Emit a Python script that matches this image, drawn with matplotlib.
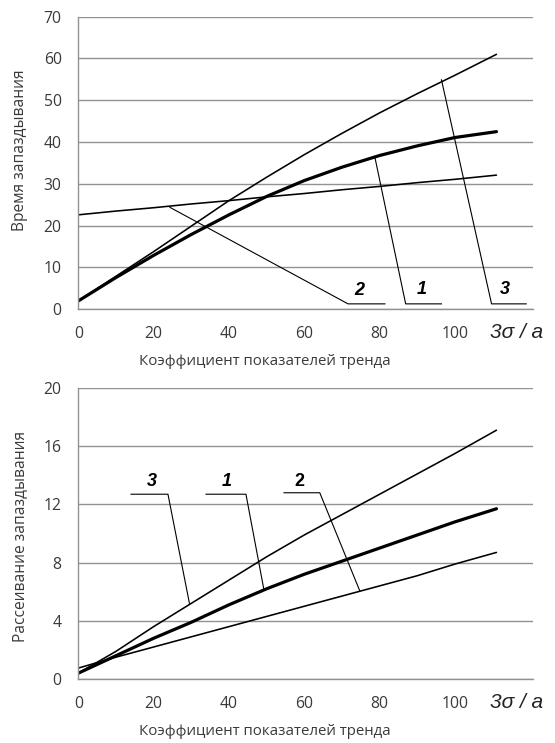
import matplotlib
matplotlib.use("Agg")
import matplotlib.pyplot as plt

# ---- data ----
x = [0, 10, 20, 30, 40, 50, 60, 70, 80, 90, 100, 111]

top_c1 = [2.0, 7.6, 12.9, 17.9, 22.6, 27.0, 30.8, 34.0, 36.8, 39.1, 41.1, 42.5]
top_c2 = [22.6, 23.5, 24.3, 25.2, 26.0, 26.9, 27.7, 28.6, 29.4, 30.3, 31.1, 32.1]
top_c3 = [2.0, 7.9, 13.8, 19.9, 26.0, 31.6, 37.0, 42.1, 47.0, 51.6, 56.0, 61.0]

bot_c1 = [0.4, 1.6, 2.8, 3.9, 5.1, 6.2, 7.2, 8.1, 9.0, 9.9, 10.8, 11.7]
bot_c2 = [0.75, 1.5, 2.2, 2.9, 3.6, 4.3, 5.0, 5.7, 6.4, 7.1, 7.9, 8.7]
bot_c3 = [0.4, 1.9, 3.6, 5.2, 6.8, 8.4, 9.9, 11.3, 12.7, 14.1, 15.5, 17.1]

x_ticks = [0, 20, 40, 60, 80, 100]
top_yticks = [0, 10, 20, 30, 40, 50, 60, 70]
bot_yticks = [0, 4, 8, 12, 16, 20]

top_ylabel = "Время запаздывания"
bot_ylabel = "Рассеивание запаздывания"
xlabel = "Коэффициент показателей тренда"
x_unit = "3σ / a"

# leader lines: (label, label_pos, path)
top_leaders = [
    ("2", (74.7, 4.6), [(24.3, 24.4), (71.6, 1.3), (81.4, 1.3)]),
    ("1", (91.1, 4.8), [(78.7, 36.5), (86.9, 1.3), (96.4, 1.3)]),
    ("3", (113.2, 4.8), [(96.4, 54.9), (109.7, 1.3), (118.9, 1.3)]),
]
bot_leaders = [
    ("3", (19.6, 13.6), [(14.0, 12.7), (23.8, 12.7), (29.5, 5.2)], True),
    ("1", (39.5, 13.6), [(33.9, 12.7), (44.5, 12.7), (49.3, 6.1)], True),
    ("2", (58.6, 13.6), [(54.6, 12.8), (64.1, 12.8), (74.7, 6.07)], False),
]

fig = plt.figure(figsize=(5.55, 7.43), dpi=100)
W, H = 555, 743

def make_ax(top_px, bottom_px):
    left_px, right_px = 78.3, 533.0
    return fig.add_axes([left_px / W, 1 - bottom_px / H,
                         (right_px - left_px) / W, (bottom_px - top_px) / H])

ax1 = make_ax(16.7, 309.3)
ax2 = make_ax(388.0, 679.0)

grid_c = "#929292"
txt_c = "#3a3a3a"
font = "Open Sans"

def style(ax, yticks, ylabel, ylab_y):
    ax.set_xlim(0, 120.7)
    ax.set_ylim(yticks[0], yticks[-1])
    ax.set_yticks(yticks)
    ax.set_xticks(x_ticks)
    for s in ["top", "right"]:
        ax.spines[s].set_visible(False)
    for s in ["left", "bottom"]:
        ax.spines[s].set_color(grid_c)
        ax.spines[s].set_linewidth(1.0)
    ax.yaxis.grid(True, color=grid_c, linewidth=1.0)
    ax.set_axisbelow(True)
    ax.tick_params(length=0, labelsize=11.3, labelcolor=txt_c)
    ax.tick_params(axis="y", pad=12)
    ax.tick_params(axis="x", pad=12)
    for lab in ax.get_xticklabels() + ax.get_yticklabels():
        lab.set_fontfamily(font)
    ax.set_ylabel(ylabel, fontsize=11.2, color=txt_c, family=font)
    ax.yaxis.set_label_coords(-0.111, ylab_y)
    ax.set_xlabel(xlabel, fontsize=10.8, color=txt_c, family=font)
    ax.xaxis.set_label_coords(0.41, -0.153)
    ax.text(116.3, -0.080, x_unit, transform=ax.get_xaxis_transform(),
            ha="center", va="center", fontsize=15, style="italic",
            family="Liberation Sans", color="#222222")

style(ax1, top_yticks, top_ylabel, 0.544)
style(ax2, bot_yticks, bot_ylabel, 0.49)

thin = 1.15
thick = 2.3
ax1.plot(x, top_c2, color="black", lw=thin, solid_capstyle="round")
ax1.plot(x, top_c3, color="black", lw=thin, solid_capstyle="round")
ax1.plot(x, top_c1, color="black", lw=thick, solid_capstyle="round")

ax2.plot(x, bot_c2, color="black", lw=thin, solid_capstyle="round")
ax2.plot(x, bot_c3, color="black", lw=thin, solid_capstyle="round")
ax2.plot(x, bot_c1, color="black", lw=thick, solid_capstyle="round")

for lab, pos, path in top_leaders:
    px, py = zip(*path)
    ax1.plot(px, py, color="black", lw=0.8, clip_on=False)
    ax1.text(pos[0], pos[1], lab, ha="center", va="center", fontsize=13,
             fontweight="bold", style="italic", family="Liberation Sans")

for lab, pos, path, ital in bot_leaders:
    px, py = zip(*path)
    ax2.plot(px, py, color="black", lw=0.8, clip_on=False)
    ax2.text(pos[0], pos[1], lab, ha="center", va="center", fontsize=13,
             fontweight="bold", style="italic" if ital else "normal",
             family="Liberation Sans")

fig.savefig("out.png", dpi=100)
